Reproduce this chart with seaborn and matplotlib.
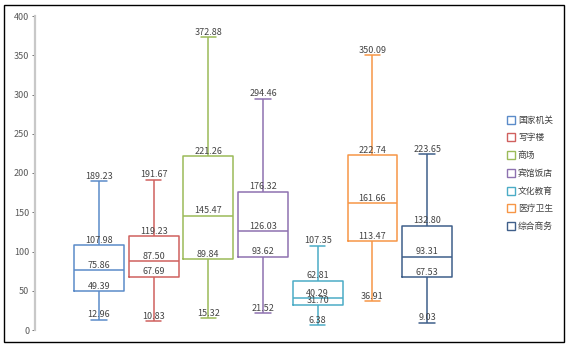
import numpy as np
import pandas as pd
import matplotlib
matplotlib.use("Agg")
import matplotlib.pyplot as plt
from matplotlib.lines import Line2D
from matplotlib.patches import Rectangle
import seaborn as sns

categories = ["国家机关", "写字楼", "商场", "宾馆饭店", "文化教育", "医疗卫生", "综合商务"]
mins    = [12.96, 10.83, 15.32, 21.52, 6.38, 36.91, 9.03]
q1s     = [49.39, 67.69, 89.84, 93.62, 31.70, 113.47, 67.53]
medians = [75.86, 87.50, 145.47, 126.03, 40.29, 161.66, 93.31]
q3s     = [107.98, 119.23, 221.26, 176.32, 62.81, 222.74, 132.80]
maxs    = [189.23, 191.67, 372.88, 294.46, 107.35, 350.09, 223.65]
colors  = ["#5B8BC9", "#D0605E", "#9BBB59", "#8E72B0", "#4BACC6", "#F79646", "#3F5F8A"]
yticks  = [0, 50, 100, 150, 200, 250, 300, 350, 400]

sns.set_style("white")
plt.rcParams["font.family"] = ["Noto Sans CJK SC", "DejaVu Sans"]

rows = []
for c, a, b, m, d, e in zip(categories, mins, q1s, medians, q3s, maxs):
    for v in (a, b, m, d, e):
        rows.append({"cat": c, "val": v})
df = pd.DataFrame(rows)

fig = plt.figure(figsize=(5.7, 3.48), dpi=100)
ax = fig.add_axes([35 / 570, 1 - 330 / 348, (490 - 35) / 570, (330 - 16) / 348])

sns.boxplot(data=df, x="cat", y="val", hue="cat", order=categories, hue_order=categories,
            palette=colors, fill=False, dodge=False, width=0.91, whis=np.inf,
            linewidth=1.1, legend=False, ax=ax)

# shorten whisker caps
cap_half = 0.14
for line in ax.lines:
    xd = np.asarray(line.get_xdata(), dtype=float)
    yd = np.asarray(line.get_ydata(), dtype=float)
    if len(xd) == 2 and yd[0] == yd[1] and xd[0] != xd[1]:
        cx = (xd[0] + xd[1]) / 2
        i = int(round(cx))
        if 0 <= i < len(categories) and (np.isclose(yd[0], mins[i]) or np.isclose(yd[0], maxs[i])):
            line.set_xdata([cx - cap_half, cx + cap_half])

ax.set_xlim(-1.17, 7.15)
ax.set_ylim(0, 400)
ax.set_yticks(yticks)
ax.set_xticks([])
ax.set_xlabel("")
ax.set_ylabel("")
for s in ["top", "right", "bottom"]:
    ax.spines[s].set_visible(False)
ax.spines["left"].set_color("#C8C8C8")
ax.spines["left"].set_linewidth(1.6)
ax.tick_params(axis="y", labelsize=6.5, colors="#595959", length=2, width=0.6,
               left=True, pad=2)
for t in ax.get_yticklabels():
    t.set_color("#595959")

for i in range(len(categories)):
    for v in (mins[i], q1s[i], medians[i], q3s[i], maxs[i]):
        ax.annotate(f"{v:.2f}", (i, v), xytext=(0, 0.3), textcoords="offset points",
                    ha="center", va="bottom", fontsize=6.5, color="#454545")

handles = [Line2D([0], [0], marker="s", linestyle="none", markersize=6,
                  markerfacecolor="white", markeredgecolor=c, markeredgewidth=1.0)
           for c in colors]
fig.legend(handles, categories, loc="center left", bbox_to_anchor=(503 / 570, 1 - 173.4 / 348),
           frameon=False, fontsize=6.3, handlelength=0.8, handletextpad=0.4,
           labelspacing=1.0, borderpad=0, labelcolor="#404040")

fig.add_artist(Rectangle((4 / 570, 1 - 342 / 348), 560 / 570, 337 / 348,
                         transform=fig.transFigure, fill=False, edgecolor="black", linewidth=1.0))

fig.savefig("out.png", dpi=100)
